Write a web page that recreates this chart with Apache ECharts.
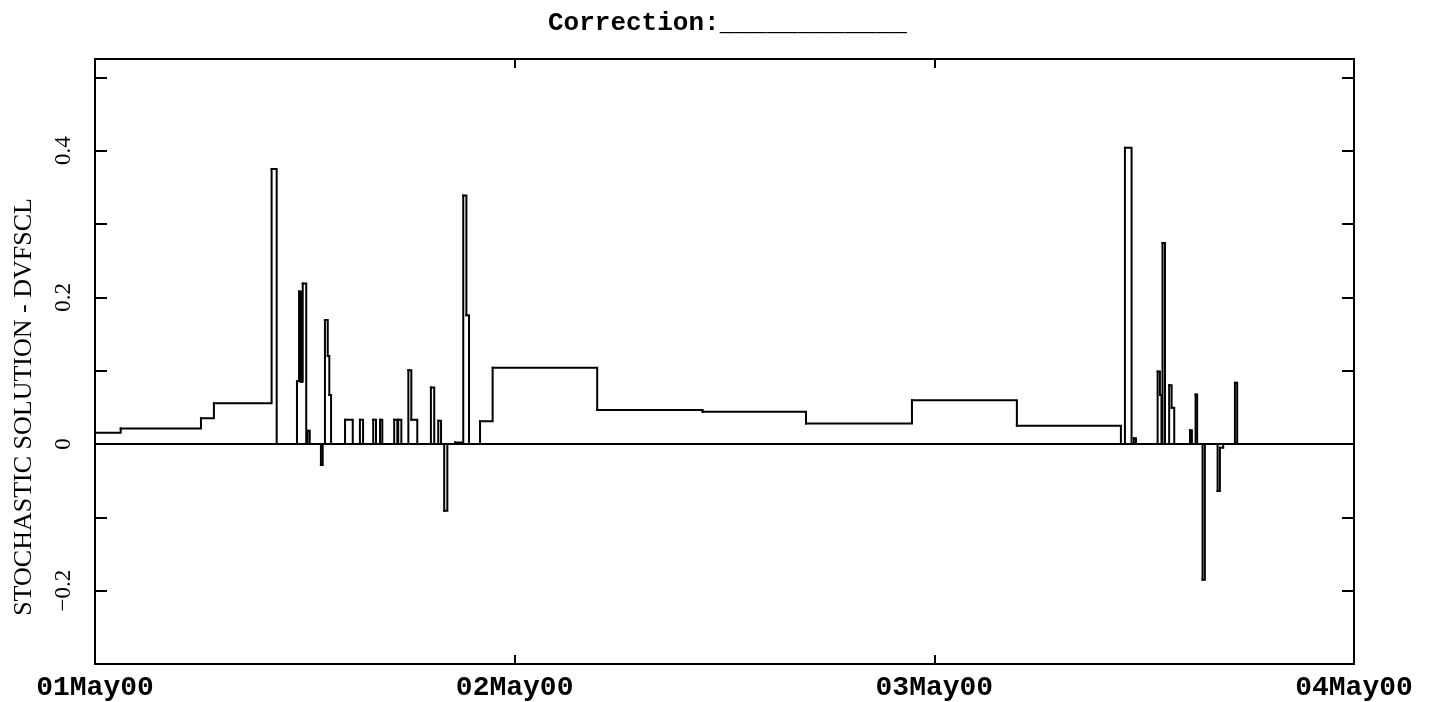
<!DOCTYPE html>
<html>
<head>
<meta charset="utf-8">
<script src="https://cdn.jsdelivr.net/npm/echarts@6/dist/echarts.min.js"></script>
<style>
  html, body { margin: 0; padding: 0; background: #fff; }
  #chart { width: 1436px; height: 702px; }
</style>
</head>
<body>
<div id="chart"></div>
<script>
// step series: each value holds from its hour until the next hour (hours from 01May00 00:00)
var stepHours = [
  0, 1.47, 6.06, 6.80, 10.10, 10.39,
  11.55, 11.67, 11.78, 11.88, 12.08, 12.16, 12.28,
  12.92, 13.02, 13.15, 13.31, 13.40, 13.50,
  14.30, 14.74, 15.15, 15.33, 15.91, 16.07, 16.30, 16.43,
  17.11, 17.29, 17.34, 17.52, 17.92, 18.09, 18.43,
  19.21, 19.40, 19.63, 19.79, 19.97, 20.15, 20.59,
  21.06, 21.24, 21.39, 22.02, 22.74, 28.72, 34.75, 40.66, 46.72, 52.72,
  58.67, 58.90, 59.28, 59.41, 59.53,
  60.77, 60.90, 60.99, 61.05, 61.19, 61.43, 61.57, 61.72,
  62.62, 62.73, 62.94, 63.03, 63.34, 63.47,
  64.20, 64.33, 64.52, 65.19, 65.32, 72
];
var stepValues = [
  0.0155, 0.021, 0.035, 0.0554, 0.375, 0,
  0.0857, 0.208, 0.085, 0.219, 0, 0.018, 0,
  -0.0286, 0, 0.169, 0.12, 0.0667, 0,
  0.033, 0, 0.033, 0, 0.033, 0, 0.033, 0,
  0.033, 0, 0.033, 0, 0.1007, 0.033, 0,
  0.077, 0, 0.0318, 0, -0.091, 0, 0.002,
  0.339, 0.1755, 0, 0.031, 0.104, 0.0463, 0.044, 0.028, 0.0595, 0.025,
  0, 0.404, 0, 0.008, 0,
  0.099, 0.067, 0, 0.274, 0, 0.080, 0.0495, 0,
  0.0186, 0, 0.0676, 0, -0.185, 0,
  -0.064, -0.005, 0, 0.0835, 0, 0
];
var dayLabels = ['01May00', '02May00', '03May00', '04May00'];
var yLabelValues = [-0.2, 0, 0.2, 0.4];
var yLabelTexts = ['\u22120.2', '0', '0.2', '0.4'];

// one item per step: [start hour, end hour, value, next value]
var stepItems = [];
for (var i = 0; i < stepHours.length - 1; i++) {
  stepItems.push([stepHours[i], stepHours[i + 1], stepValues[i], stepValues[i + 1]]);
}

function xLabel(v) {
  var d = Math.round(v / 24);
  if (Math.abs(v - d * 24) > 1e-6) return '';
  return dayLabels[d] || '';
}
function yLabel(v) {
  for (var i = 0; i < yLabelValues.length; i++) {
    if (Math.abs(v - yLabelValues[i]) < 1e-6) return yLabelTexts[i];
  }
  return '';
}

function renderStep(params, api) {
  var t0 = api.value(0), t1 = api.value(1);
  var v0 = api.value(2), v1 = api.value(3);
  return {
    type: 'polyline',
    silent: true,
    shape: { points: [api.coord([t0, v0]), api.coord([t1, v0]), api.coord([t1, v1])] },
    style: { stroke: '#000', lineWidth: 2, fill: null, lineCap: 'square', lineJoin: 'miter' }
  };
}

var chart = echarts.init(document.getElementById('chart'));
var option = {
  animation: false,
  backgroundColor: '#fff',
  title: {
    text: 'Correction:____________',
    left: 543,
    top: 5,
    textStyle: {
      fontFamily: 'Liberation Mono',
      fontWeight: 'bold',
      fontSize: 26,
      color: '#000'
    }
  },
  grid: {
    left: 95, right: 82, top: 59, bottom: 36,
    show: true, borderColor: '#000', borderWidth: 2
  },
  xAxis: [{
    type: 'value', min: 0, max: 72, interval: 24,
    position: 'bottom',
    axisLine: { onZero: false, lineStyle: { color: '#000', width: 2 } },
    axisTick: { inside: true, length: 9, lineStyle: { color: '#000', width: 2 } },
    splitLine: { show: false },
    axisLabel: {
      formatter: xLabel, margin: 10, color: '#000',
      fontFamily: 'Liberation Mono', fontWeight: 'bold', fontSize: 28,
      showMinLabel: true, showMaxLabel: true
    }
  }, {
    type: 'value', min: 0, max: 72, interval: 24,
    position: 'top',
    axisLine: { onZero: false, lineStyle: { color: '#000', width: 2 } },
    axisTick: { inside: true, length: 9, lineStyle: { color: '#000', width: 2 } },
    splitLine: { show: false },
    axisLabel: { show: false }
  }],
  yAxis: [{
    type: 'value', min: -0.3, max: 0.525, interval: 0.1,
    position: 'left',
    axisLine: { onZero: false, lineStyle: { color: '#000', width: 2 } },
    axisTick: { inside: true, length: 12, lineStyle: { color: '#000', width: 2 } },
    splitLine: { show: false },
    axisLabel: {
      formatter: yLabel, rotate: 90, margin: 20, color: '#000',
      fontFamily: 'Liberation Serif', fontSize: 23
    }
  }, {
    type: 'value', min: -0.3, max: 0.525, interval: 0.1,
    position: 'right',
    axisLine: { onZero: false, lineStyle: { color: '#000', width: 2 } },
    axisTick: { inside: true, length: 12, lineStyle: { color: '#000', width: 2 } },
    splitLine: { show: false },
    axisLabel: { show: false }
  }],
  graphic: [{
    type: 'text',
    x: 24, y: 407,
    rotation: Math.PI / 2,
    style: {
      text: 'STOCHASTIC SOLUTION - DVFSCL',
      fontFamily: 'Liberation Serif', fontSize: 26,
      fill: '#000', align: 'center', verticalAlign: 'middle'
    }
  }],
  series: [{
    type: 'custom',
    data: stepItems,
    encode: { x: [0, 1], y: [2, 3] },
    renderItem: renderStep,
    markLine: {
      silent: true,
      symbol: 'none',
      label: { show: false },
      lineStyle: { color: '#000', width: 2, type: 'solid' },
      data: [{ yAxis: 0 }]
    }
  }]
};
chart.setOption(option);
</script>
</body>
</html>
